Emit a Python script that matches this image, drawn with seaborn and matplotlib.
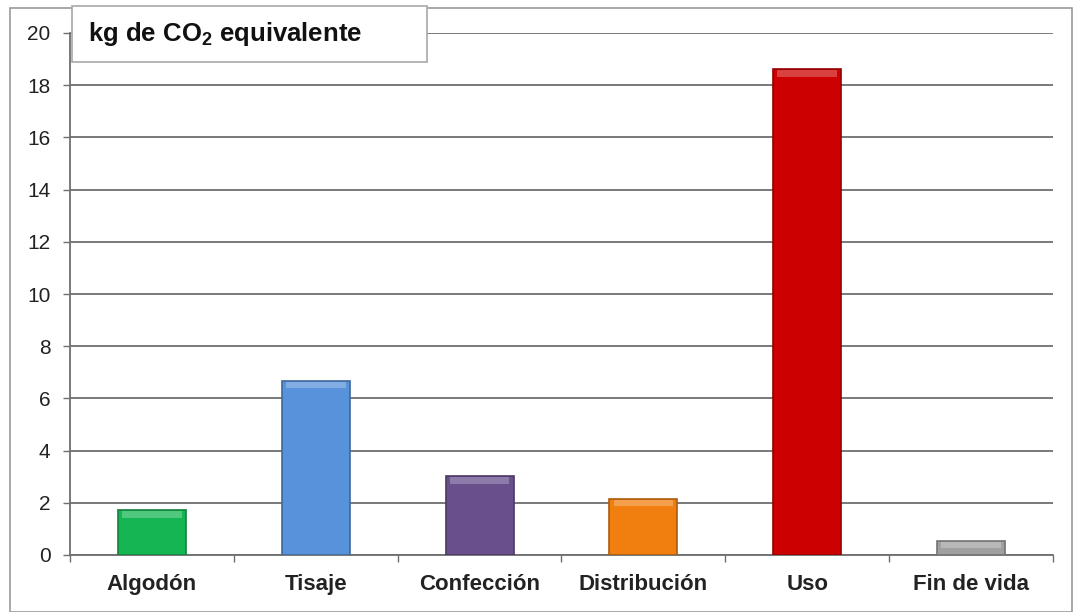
import numpy as np
import pandas as pd
import matplotlib
matplotlib.use("Agg")
import matplotlib.pyplot as plt
from matplotlib.patches import Rectangle
import matplotlib.colors as mcolors
import seaborn as sns

# Life-cycle stages and their carbon footprint (kg CO2 eq.)
etapas = ["Algodón", "Tisaje", "Confección", "Distribución", "Uso", "Fin de vida"]
kg_co2 = [1.72, 6.67, 3.02, 2.15, 18.62, 0.55]
colores = ["#14B552", "#5792DA", "#6A4F8D", "#F07F10", "#CC0000", "#A0A0A0"]
y_ticks = [0, 2, 4, 6, 8, 10, 12, 14, 16, 18, 20]

sns.set_theme(style="white")
plt.rcParams["font.family"] = ["Liberation Sans", "DejaVu Sans"]
plt.rcParams["mathtext.fontset"] = "custom"
plt.rcParams["mathtext.bf"] = "Liberation Sans:bold"
plt.rcParams["mathtext.rm"] = "Liberation Sans"

df = pd.DataFrame({"etapa": etapas, "kg": kg_co2})

fig = plt.figure(figsize=(10.75, 6.12), dpi=100)
ax = fig.add_axes([70 / 1075, 1 - 555 / 612, (1053 - 70) / 1075, (555 - 33) / 612])

sns.barplot(data=df, x="etapa", y="kg", hue="etapa", palette=colores,
            legend=False, width=0.415, ax=ax, zorder=3, saturation=1)

# darker outline and a lighter bevel strip on top of each bar
for patch, c in zip(ax.patches, colores):
    dark = tuple(np.array(mcolors.to_rgb(c)) * 0.72)
    patch.set_edgecolor(dark)
    patch.set_linewidth(1.2)
bevel = 0.25
xs = np.arange(len(etapas))
lights = [tuple(np.clip(np.array(mcolors.to_rgb(c)) * 0.75 + 0.25, 0, 1)) for c in colores]
ax.bar(xs, [bevel] * len(xs), bottom=np.array(kg_co2) - bevel - 0.04, width=0.415 * 0.88,
       color=lights, zorder=4, linewidth=0)

ax.set_xlim(-0.5, len(etapas) - 0.5)
ax.set_ylim(0, 20)
ax.set_yticks(y_ticks)
ax.yaxis.grid(True, color="#6e6e6e", linewidth=1.3, zorder=0)
ax.set_axisbelow(True)
ax.set_xlabel("")
ax.set_ylabel("")

for s in ["top", "right"]:
    ax.spines[s].set_visible(False)
for s in ["left", "bottom"]:
    ax.spines[s].set_color("#6e6e6e")
    ax.spines[s].set_linewidth(1.3)

ax.tick_params(axis="y", which="major", length=5, width=1, color="#6e6e6e",
               direction="out", left=True, pad=9, labelsize=15, labelcolor="#222222")
ax.tick_params(axis="x", which="major", length=0, pad=14, labelsize=16,
               labelcolor="#222222")
ax.set_xticks(np.arange(-0.5, len(etapas)), minor=True)
ax.tick_params(axis="x", which="minor", length=5, width=1, color="#6e6e6e",
               direction="out", bottom=True)
for lbl in ax.get_xticklabels():
    lbl.set_fontweight("bold")

# outer chart frame
fig.patches.append(Rectangle((10 / 1075, 0), 1062 / 1075, 1 - 8 / 612,
                             transform=fig.transFigure, fill=False,
                             edgecolor="#9a9a9a", linewidth=1.2, zorder=0))
# title box
fig.patches.append(Rectangle((72 / 1075, 1 - 62 / 612), (427 - 72) / 1075, 56 / 612,
                             transform=fig.transFigure, facecolor="white",
                             edgecolor="#a8a8a8", linewidth=1.2, zorder=10))
fig.text(88 / 1075, 1 - 34 / 612, r"kg de CO$_\mathbf{2}$ equivalente",
         fontsize=18.5, fontweight="bold", color="#111111", va="center", ha="left",
         zorder=11)

fig.savefig("out.png", dpi=100)
